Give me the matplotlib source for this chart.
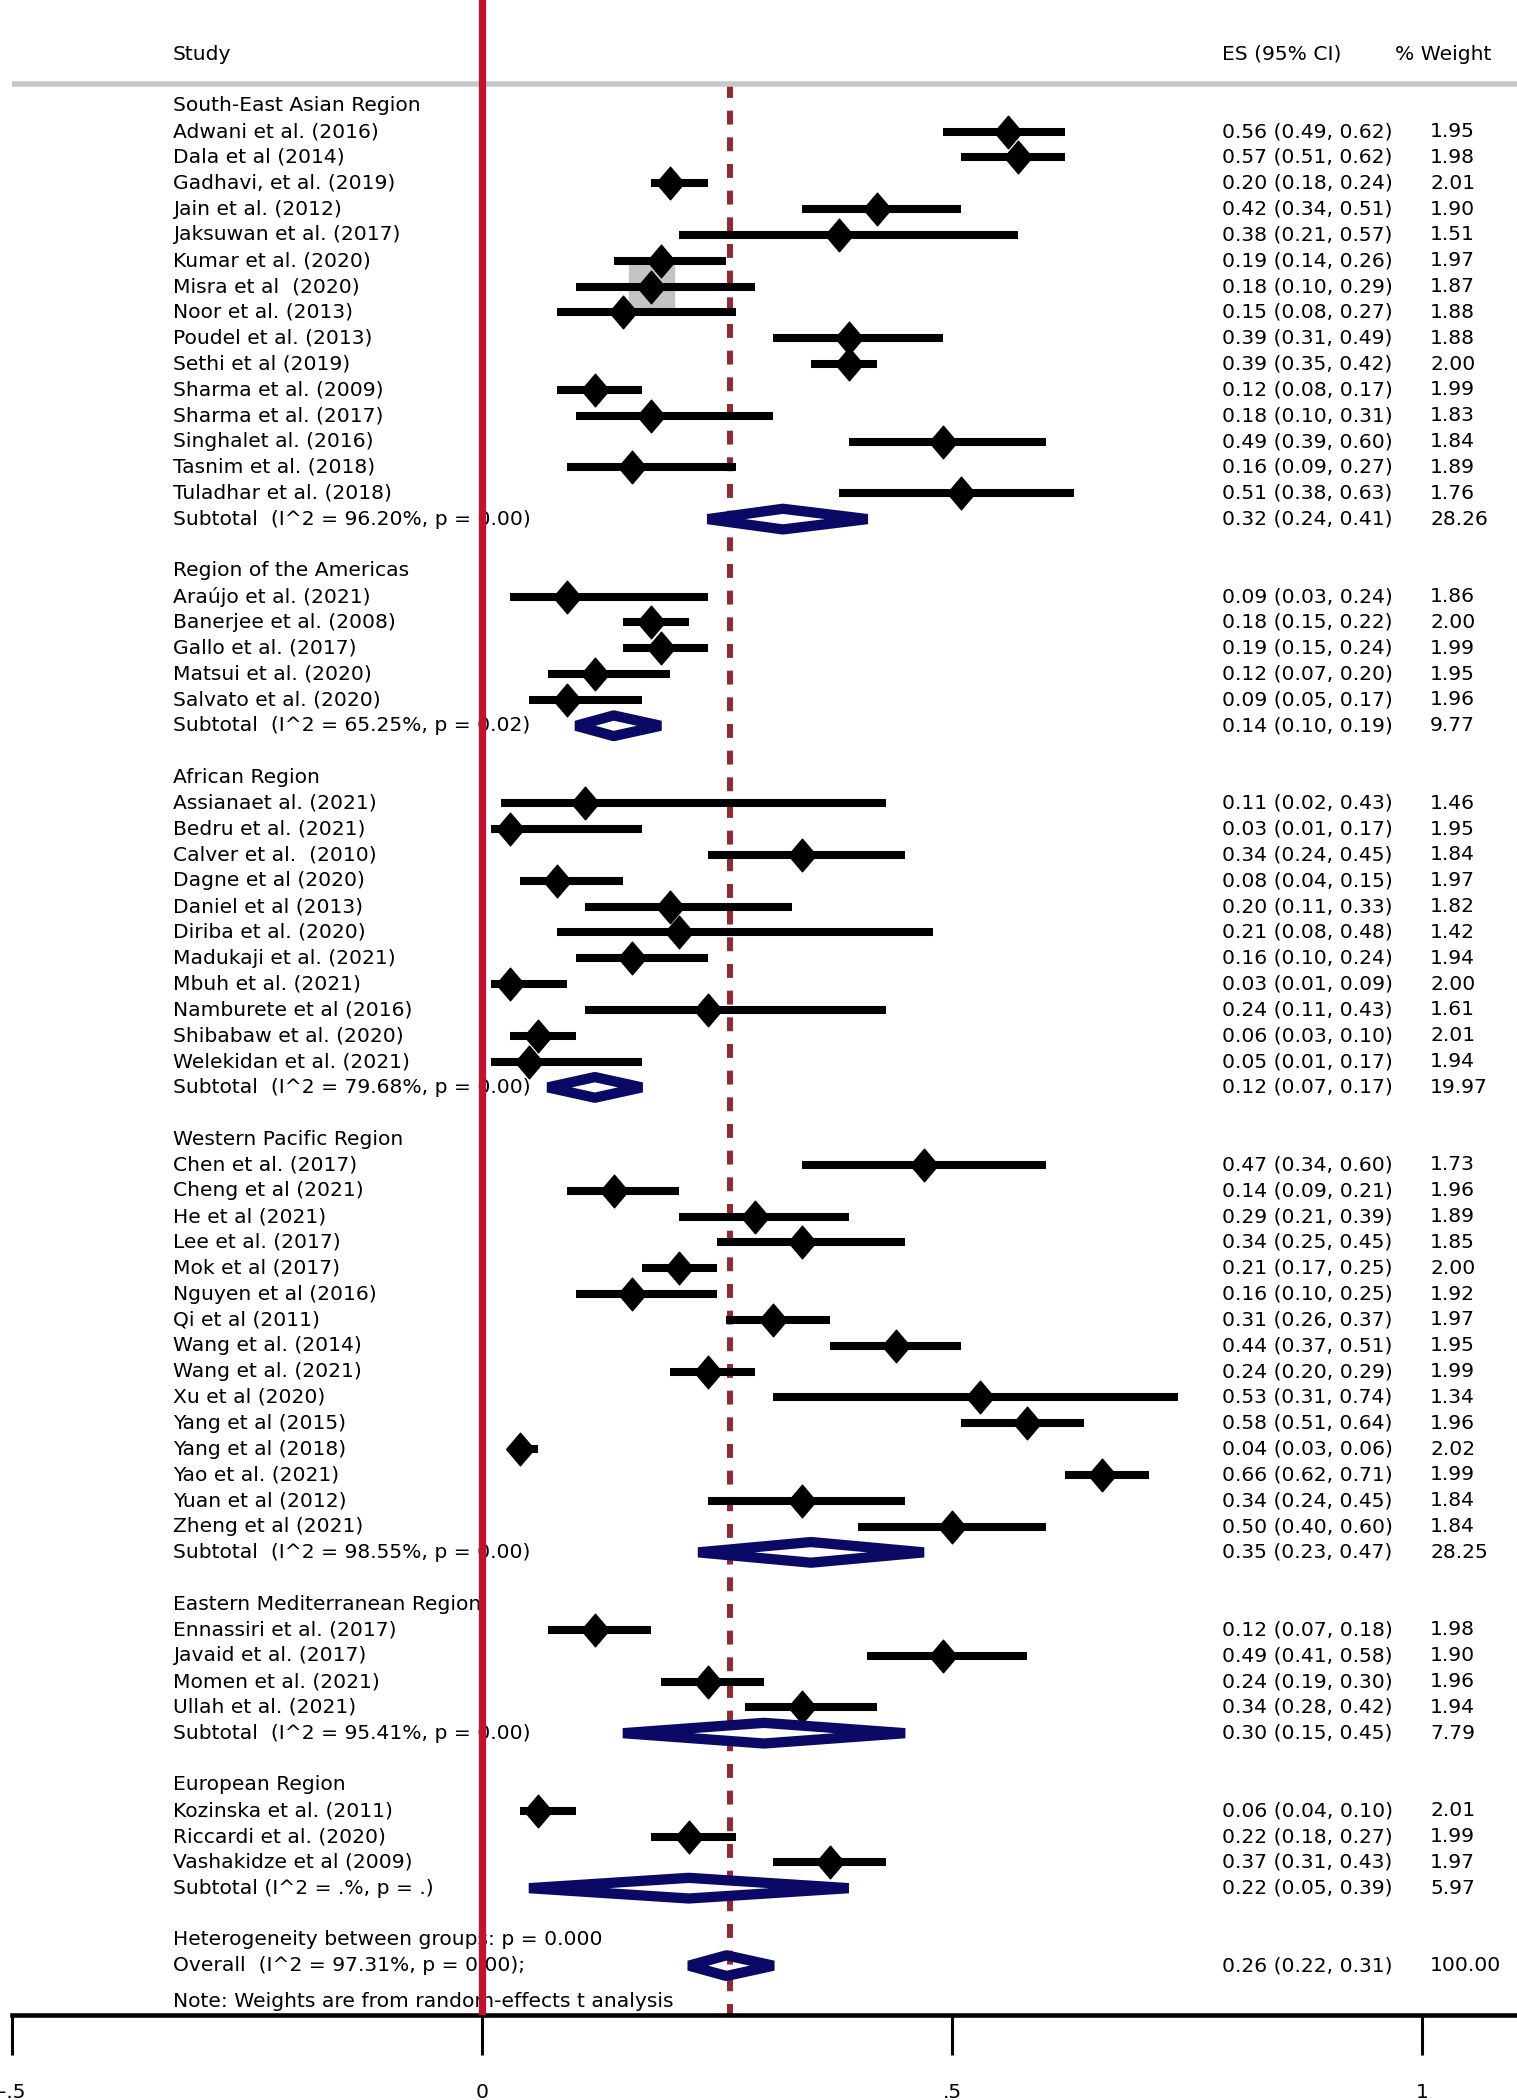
import matplotlib.pyplot as plt
from matplotlib.patches import Polygon, Rectangle

plt.rcParams['font.family'] = ['DejaVu Sans']
plt.rcParams['lines.scale_dashes'] = False

# ---- data ----
regions = ["South-East Asian Region", "Region of the Americas", "African Region",
           "Western Pacific Region", "Eastern Mediterranean Region", "European Region"]

sea_names = ["Adwani et al. (2016)", "Dala et al (2014)", "Gadhavi, et al. (2019)", "Jain et al. (2012)",
             "Jaksuwan et al. (2017)", "Kumar et al. (2020)", "Misra et al  (2020)", "Noor et al. (2013)",
             "Poudel et al. (2013)", "Sethi et al (2019)", "Sharma et al. (2009)", "Sharma et al. (2017)",
             "Singhalet al. (2016)", "Tasnim et al. (2018)", "Tuladhar et al. (2018)"]
sea_es = [0.56, 0.57, 0.20, 0.42, 0.38, 0.19, 0.18, 0.15, 0.39, 0.39, 0.12, 0.18, 0.49, 0.16, 0.51]
sea_lo = [0.49, 0.51, 0.18, 0.34, 0.21, 0.14, 0.10, 0.08, 0.31, 0.35, 0.08, 0.10, 0.39, 0.09, 0.38]
sea_hi = [0.62, 0.62, 0.24, 0.51, 0.57, 0.26, 0.29, 0.27, 0.49, 0.42, 0.17, 0.31, 0.60, 0.27, 0.63]
sea_w = [1.95, 1.98, 2.01, 1.90, 1.51, 1.97, 1.87, 1.88, 1.88, 2.00, 1.99, 1.83, 1.84, 1.89, 1.76]

amr_names = ["Araújo et al. (2021)", "Banerjee et al. (2008)", "Gallo et al. (2017)",
             "Matsui et al. (2020)", "Salvato et al. (2020)"]
amr_es = [0.09, 0.18, 0.19, 0.12, 0.09]
amr_lo = [0.03, 0.15, 0.15, 0.07, 0.05]
amr_hi = [0.24, 0.22, 0.24, 0.20, 0.17]
amr_w = [1.86, 2.00, 1.99, 1.95, 1.96]

afr_names = ["Assianaet al. (2021)", "Bedru et al. (2021)", "Calver et al.  (2010)", "Dagne et al (2020)",
             "Daniel et al (2013)", "Diriba et al. (2020)", "Madukaji et al. (2021)", "Mbuh et al. (2021)",
             "Namburete et al (2016)", "Shibabaw et al. (2020)", "Welekidan et al. (2021)"]
afr_es = [0.11, 0.03, 0.34, 0.08, 0.20, 0.21, 0.16, 0.03, 0.24, 0.06, 0.05]
afr_lo = [0.02, 0.01, 0.24, 0.04, 0.11, 0.08, 0.10, 0.01, 0.11, 0.03, 0.01]
afr_hi = [0.43, 0.17, 0.45, 0.15, 0.33, 0.48, 0.24, 0.09, 0.43, 0.10, 0.17]
afr_w = [1.46, 1.95, 1.84, 1.97, 1.82, 1.42, 1.94, 2.00, 1.61, 2.01, 1.94]

wpr_names = ["Chen et al. (2017)", "Cheng et al (2021)", "He et al (2021)", "Lee et al. (2017)",
             "Mok et al (2017)", "Nguyen et al (2016)", "Qi et al (2011)", "Wang et al. (2014)",
             "Wang et al. (2021)", "Xu et al (2020)", "Yang et al (2015)", "Yang et al (2018)",
             "Yao et al. (2021)", "Yuan et al (2012)", "Zheng et al (2021)"]
wpr_es = [0.47, 0.14, 0.29, 0.34, 0.21, 0.16, 0.31, 0.44, 0.24, 0.53, 0.58, 0.04, 0.66, 0.34, 0.50]
wpr_lo = [0.34, 0.09, 0.21, 0.25, 0.17, 0.10, 0.26, 0.37, 0.20, 0.31, 0.51, 0.03, 0.62, 0.24, 0.40]
wpr_hi = [0.60, 0.21, 0.39, 0.45, 0.25, 0.25, 0.37, 0.51, 0.29, 0.74, 0.64, 0.06, 0.71, 0.45, 0.60]
wpr_w = [1.73, 1.96, 1.89, 1.85, 2.00, 1.92, 1.97, 1.95, 1.99, 1.34, 1.96, 2.02, 1.99, 1.84, 1.84]

emr_names = ["Ennassiri et al. (2017)", "Javaid et al. (2017)", "Momen et al. (2021)", "Ullah et al. (2021)"]
emr_es = [0.12, 0.49, 0.24, 0.34]
emr_lo = [0.07, 0.41, 0.19, 0.28]
emr_hi = [0.18, 0.58, 0.30, 0.42]
emr_w = [1.98, 1.90, 1.96, 1.94]

eur_names = ["Kozinska et al. (2011)", "Riccardi et al. (2020)", "Vashakidze et al (2009)"]
eur_es = [0.06, 0.22, 0.37]
eur_lo = [0.04, 0.18, 0.31]
eur_hi = [0.10, 0.27, 0.43]
eur_w = [2.01, 1.99, 1.97]

sub_labels = ["Subtotal  (I^2 = 96.20%, p = 0.00)", "Subtotal  (I^2 = 65.25%, p = 0.02)",
              "Subtotal  (I^2 = 79.68%, p = 0.00)", "Subtotal  (I^2 = 98.55%, p = 0.00)",
              "Subtotal  (I^2 = 95.41%, p = 0.00)", "Subtotal (I^2 = .%, p = .)"]
sub_es = [0.32, 0.14, 0.12, 0.35, 0.30, 0.22]
sub_lo = [0.24, 0.10, 0.07, 0.23, 0.15, 0.05]
sub_hi = [0.41, 0.19, 0.17, 0.47, 0.45, 0.39]
sub_w = [28.26, 9.77, 19.97, 28.25, 7.79, 5.97]

het_label = "Heterogeneity between groups: p = 0.000"
overall_label = "Overall  (I^2 = 97.31%, p = 0.00);"
overall_es, overall_lo, overall_hi, overall_w = 0.26, 0.22, 0.31, 100.00
pooled_line = 0.264
note = "Note: Weights are from random-effects t analysis"
boxed_study = "Misra et al  (2020)"

xticks = [-0.5, 0, 0.5, 1]
xtick_labels = ["-.5", "0", ".5", "1"]

groups = [
    (sea_names, sea_es, sea_lo, sea_hi, sea_w),
    (amr_names, amr_es, amr_lo, amr_hi, amr_w),
    (afr_names, afr_es, afr_lo, afr_hi, afr_w),
    (wpr_names, wpr_es, wpr_lo, wpr_hi, wpr_w),
    (emr_names, emr_es, emr_lo, emr_hi, emr_w),
    (eur_names, eur_es, eur_lo, eur_hi, eur_w),
]

# ---- layout ----
FS = 14.6
NAVY = '#0A0A66'
x_label = -0.3287
x_es = 0.787
x_whead = 0.971
x_w = 1.0085
diamond = [(-0.85, 0), (0, 1), (0.85, 0), (0, -1), (-0.85, 0)]


def ci_text(es, lo, hi):
    return f"{es:.2f} ({lo:.2f}, {hi:.2f})"


def pooled_diamond(ax, es, lo, hi, y):
    h = 0.40
    ax.add_patch(Polygon([(lo, y), (es, y - h), (hi, y), (es, y + h)], closed=True, fill=False,
                         edgecolor=NAVY, lw=7.4, joinstyle='bevel', zorder=5))


fig = plt.figure(figsize=(15.17, 21.0), dpi=100)
ax = fig.add_axes([0, 85 / 2100, 1, 1 - 85 / 2100])
ax.set_xlim(-0.5128, 1.101)
ax.set_ylim(73.91, -4.096)

# header
ax.text(x_label, -2, "Study", fontsize=FS, va='center')
ax.text(x_es, -2, "ES (95% CI)", fontsize=FS, va='center')
ax.text(x_whead, -2, "% Weight", fontsize=FS, va='center')
ax.plot([-0.5, 1.101], [-0.844, -0.844], color='#C8C8C8', lw=4, solid_capstyle='butt')

row = 0
for g, (names, es, lo, hi, w) in enumerate(groups):
    ax.text(x_label, row, regions[g], fontsize=FS, va='center')
    row += 1
    for i in range(len(names)):
        if names[i] == boxed_study:
            ax.add_patch(Rectangle((es[i] - 0.024, row - 0.85), 0.048, 1.7,
                                   color='#C4C4C4', zorder=2))
        ax.plot([lo[i], hi[i]], [row, row], color='black', lw=5.8, solid_capstyle='butt', zorder=3)
        ax.plot(es[i], row, marker=diamond, ms=23.5, color='black', zorder=4)
        ax.text(x_label, row, names[i], fontsize=FS, va='center')
        ax.text(x_es, row, ci_text(es[i], lo[i], hi[i]), fontsize=FS, va='center')
        ax.text(x_w, row, f"{w[i]:.2f}", fontsize=FS, va='center')
        row += 1
    pooled_diamond(ax, sub_es[g], sub_lo[g], sub_hi[g], row)
    ax.text(x_label, row, sub_labels[g], fontsize=FS, va='center')
    ax.text(x_es, row, ci_text(sub_es[g], sub_lo[g], sub_hi[g]), fontsize=FS, va='center')
    ax.text(x_w, row, f"{sub_w[g]:.2f}", fontsize=FS, va='center')
    row += 2

ax.text(x_label, row, het_label, fontsize=FS, va='center')
row += 1
pooled_diamond(ax, overall_es, overall_lo, overall_hi, row)
ax.text(x_label, row, overall_label, fontsize=FS, va='center')
ax.text(x_es, row, ci_text(overall_es, overall_lo, overall_hi), fontsize=FS, va='center')
ax.text(x_w, row, f"{overall_w:.2f}", fontsize=FS, va='center')
ax.text(x_label, row + 1.4, note, fontsize=FS, va='center')

# reference lines
ax.plot([pooled_line, pooled_line], [-0.844, 73.91], color='#962832', lw=4.3,
        linestyle=(0, (10.0, 9.2)), zorder=1)
ax.axvline(0, color='#C8102E', lw=5.2, zorder=10)

# bottom axis
for s in ['top', 'left', 'right']:
    ax.spines[s].set_visible(False)
ax.spines['bottom'].set_bounds(-0.5, 1.101)
ax.spines['bottom'].set_linewidth(3.3)
ax.set_yticks([])
ax.set_xticks(xticks)
ax.set_xticklabels(xtick_labels)
ax.tick_params(axis='x', length=28.8, width=2.2, pad=20, labelsize=FS)

fig.savefig('out.png', dpi=100)
